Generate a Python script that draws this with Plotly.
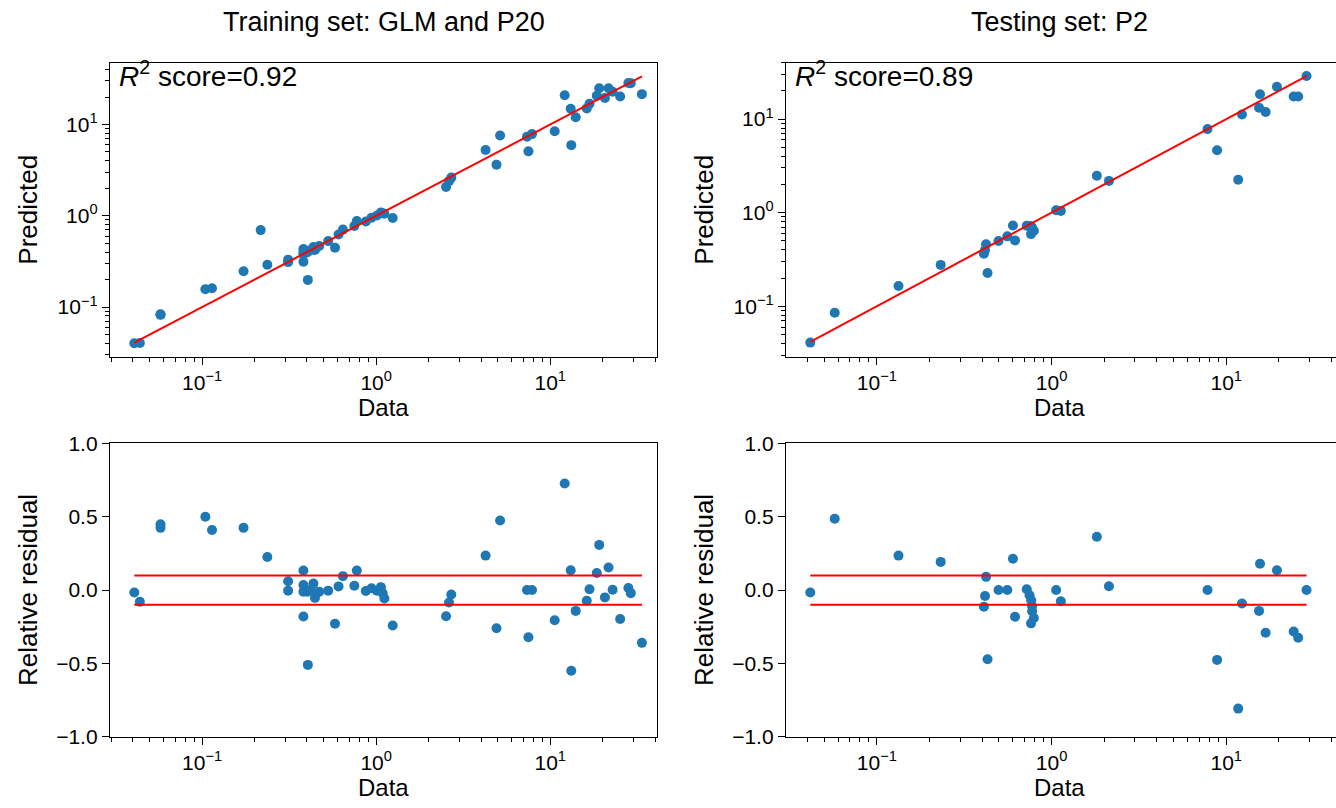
import numpy as np
import plotly.graph_objects as go

# Training set (GLM and P20): measured value and relative residual of the fit
train_data = [0.0408, 0.0439, 0.0577, 0.0577, 0.1044, 0.114, 0.173, 0.217, 0.237,
              0.312, 0.312, 0.382, 0.382, 0.382, 0.382, 0.405, 0.403, 0.42, 0.436,
              0.445, 0.471, 0.53, 0.58, 0.608, 0.644, 0.749, 0.774, 0.872, 0.94,
              1.01, 1.064, 1.09, 1.115, 1.244, 2.52, 2.62, 2.70, 4.25, 4.91, 5.15,
              7.35, 7.49, 7.85, 10.6, 12.1, 13.1, 13.2, 14.0, 16.2, 16.8, 18.5,
              19.1, 20.6, 21.6, 22.8, 25.2, 28.1, 29.0, 33.6]
train_resid = [-0.017, -0.08, 0.448, 0.424, 0.50, 0.41, 0.424, 2.21, 0.225,
               0.06, -0.004, 0.133, 0.035, -0.011, -0.18, -0.51, -0.011, 0.001, 0.044,
               -0.053, -0.011, -0.004, -0.23, 0.025, 0.095, 0.03, 0.133, -0.006, 0.012,
               -0.004, 0.02, -0.022, -0.058, -0.241, -0.178, -0.085, -0.03, 0.235, -0.26, 0.474,
               0.0, -0.322, 0.0, -0.206, 0.727, 0.135, -0.55, -0.142, -0.073, 0.005, 0.116,
               0.308, -0.05, 0.154, 0.002, -0.197, 0.014, -0.021, -0.36]

# Testing set (P2)
test_data = [0.0416, 0.0574, 0.133, 0.232, 0.422, 0.416, 0.410, 0.430, 0.497,
             0.558, 0.601, 0.618, 0.721, 0.748, 0.765, 0.774, 0.774, 0.792, 0.763,
             1.062, 1.13, 1.816, 2.13, 7.81, 8.86, 11.7, 12.3, 15.4, 15.6, 16.8,
             19.5, 24.3, 25.8, 28.8]
test_resid = [-0.017, 0.486, 0.235, 0.192, 0.09, -0.04, -0.114, -0.472, 0.0,
              0.0, 0.213, -0.182, 0.005, -0.035, -0.07, -0.11, -0.145, -0.19, -0.227,
              0.0, -0.076, 0.363, 0.026, 0.0, -0.476, -0.808, -0.092, -0.142, 0.18, -0.291,
              0.135, -0.282, -0.325, 0.0]

train_r2 = 0.92
test_r2 = 0.89
tolerance = 0.1

panel_titles = ["Training set: GLM and P20", "Testing set: P2"]
decade_labels = ["10<sup>\u22121</sup>", "10<sup>0</sup>", "10<sup>1</sup>"]
resid_ticks = [-1.0, -0.5, 0.0, 0.5, 1.0]
resid_labels = ["\u22121.0", "\u22120.5", "0.0", "0.5", "1.0"]

W, H = 1336, 808
BLUE = "#1f77b4"
RED = "#ff0000"
FONT = "Liberation Sans, Arial, sans-serif"
TICK_FS = 21
XLABEL_FS = 24
YLABEL_FS = 26
TITLE_FS = 27
SCORE_FS = 28


def px_x(v):
    return v / W


def px_y(v):
    return 1 - v / H


decades = [0.1, 1.0, 10.0]
minor_vals = [k * 10.0 ** e for e in range(-2, 2) for k in range(2, 10)]

fig = go.Figure()

sets = [
    (np.array(train_data), np.array(train_resid), train_r2),
    (np.array(test_data), np.array(test_resid), test_r2),
]

# panel geometry in pixels: (left, right) columns, (top, bottom) rows
cols = [(110, 657), (786, 1336)]
rows = [(52, 355), (444, 746)]
xranges = [[-1.529, 1.613], [-1.52, 1.628]]
yranges_top = [[-1.546, 1.679], [-1.541, 1.604]]

axis_common = dict(
    showline=True, linecolor="black", linewidth=1.3,
    ticks="outside", ticklen=7, tickwidth=1.3, tickcolor="black",
    showgrid=False, zeroline=False,
    tickfont=dict(family=FONT, size=TICK_FS, color="black"),
)
minor_common = dict(tickmode="array", tickvals=minor_vals, ticks="outside",
                    ticklen=4, tickwidth=1.0, tickcolor="black", showgrid=False)

annotations = []
idx = 0
for c, (data, resid, r2) in enumerate(sets):
    pred = data * (1 + resid)
    lo, hi = data.min(), data.max()
    right_clip = c == 1
    L, R = cols[c]
    mid = L + (cols[0][1] - cols[0][0]) / 2
    for r in range(2):
        idx += 1
        xa = "x" if idx == 1 else f"x{idx}"
        ya = "y" if idx == 1 else f"y{idx}"
        xname = "xaxis" if idx == 1 else f"xaxis{idx}"
        yname = "yaxis" if idx == 1 else f"yaxis{idx}"
        T, B = rows[r]
        fig.layout[xname] = dict(
            axis_common,
            domain=[px_x(L), min(px_x(R), 1.0)],
            anchor=ya, type="log", range=xranges[c],
            tickmode="array", tickvals=decades, ticktext=decade_labels,
            minor=minor_common, mirror=True,
        )
        if r == 0:
            fig.layout[yname] = dict(
                axis_common,
                domain=[px_y(B), px_y(T)],
                anchor=xa, type="log", range=yranges_top[c],
                tickmode="array", tickvals=decades, ticktext=decade_labels,
                minor=minor_common, mirror=not right_clip,
            )
            fig.add_trace(go.Scatter(
                x=data, y=pred, mode="markers", xaxis=xa, yaxis=ya,
                marker=dict(color=BLUE, size=10, line=dict(width=0)),
                showlegend=False))
            fig.add_trace(go.Scatter(
                x=[lo, hi], y=[lo, hi], mode="lines", xaxis=xa, yaxis=ya,
                line=dict(color=RED, width=2), showlegend=False))
            annotations.append(dict(
                xref="paper", yref="paper", x=px_x(L + 7), y=px_y(T + 12),
                xanchor="left", yanchor="middle", showarrow=False,
                text=f"<i>R</i><sup>2</sup> score={r2:.2f}",
                font=dict(family=FONT, size=SCORE_FS, color="black")))
            annotations.append(dict(
                xref="paper", yref="paper", x=px_x(mid),
                y=px_y(T - 42), xanchor="center", yanchor="middle", showarrow=False,
                text=panel_titles[c],
                font=dict(family=FONT, size=TITLE_FS, color="black")))
            ylab = "Predicted"
        else:
            fig.layout[yname] = dict(
                axis_common,
                domain=[px_y(B), px_y(T)],
                anchor=xa, range=[-1, 1],
                tickmode="array", tickvals=resid_ticks, ticktext=resid_labels,
                mirror=not right_clip,
            )
            fig.add_trace(go.Scatter(
                x=data, y=resid, mode="markers", xaxis=xa, yaxis=ya,
                marker=dict(color=BLUE, size=10, line=dict(width=0)),
                showlegend=False))
            for lvl in (tolerance, -tolerance):
                fig.add_trace(go.Scatter(
                    x=[lo, hi], y=[lvl, lvl], mode="lines", xaxis=xa, yaxis=ya,
                    line=dict(color=RED, width=2), showlegend=False))
            ylab = "Relative residual"
        # axis titles
        annotations.append(dict(
            xref="paper", yref="paper", x=px_x(mid), y=px_y(B + 52),
            xanchor="center", yanchor="middle", showarrow=False, text="Data",
            font=dict(family=FONT, size=XLABEL_FS, color="black")))
        annotations.append(dict(
            xref="paper", yref="paper", x=px_x(L - 82), y=px_y((T + B) / 2),
            xanchor="center", yanchor="middle", showarrow=False, text=ylab,
            textangle=-90,
            font=dict(family=FONT, size=YLABEL_FS, color="black")))

fig.update_layout(
    width=W, height=H,
    margin=dict(l=0, r=0, t=0, b=0),
    paper_bgcolor="white", plot_bgcolor="white",
    annotations=annotations,
    showlegend=False,
)

fig.write_html("out.html", config={"displayModeBar": False})
